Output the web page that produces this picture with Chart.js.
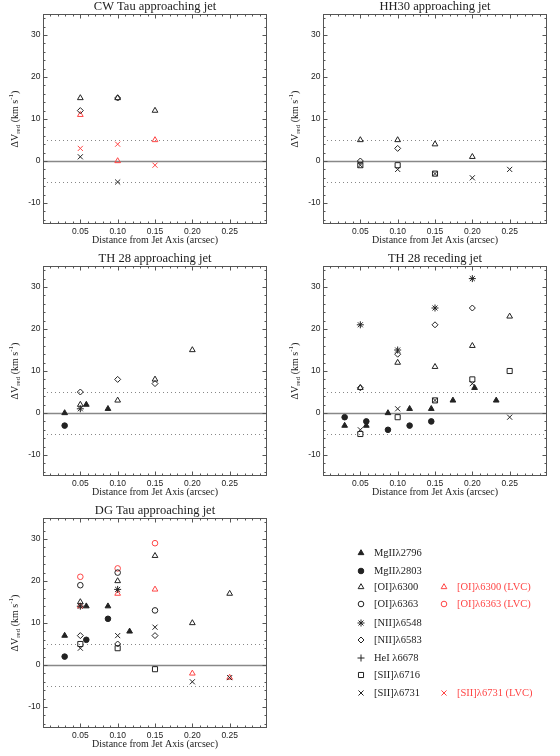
<!DOCTYPE html>
<html>
<head>
<meta charset="utf-8">
<script src="https://cdn.jsdelivr.net/npm/chart.js@4.4.0/dist/chart.umd.min.js"></script>
<style>
html, body { margin: 0; padding: 0; background: #fff; }
#wrap { position: relative; width: 560px; height: 756px; }
canvas { position: absolute; }
</style>
</head>
<body>
<div id="wrap">
<canvas id="cw" width="280" height="252" style="left:0;top:0"></canvas>
<canvas id="hh" width="280" height="252" style="left:280px;top:0"></canvas>
<canvas id="tha" width="280" height="252" style="left:0;top:252px"></canvas>
<canvas id="thr" width="280" height="252" style="left:280px;top:252px"></canvas>
<canvas id="dg" width="280" height="252" style="left:0;top:504px"></canvas>
<canvas id="leg" width="280" height="252" style="left:280px;top:504px"></canvas>
</div>
<script>
// slit positions (arcsec from jet axis)
const slitPos = [0.05, 0.10, 0.15, 0.20, 0.25];
const mgPos = [0.029, 0.058, 0.087, 0.116, 0.145, 0.174, 0.203, 0.232];

// tick labels
const xTickVals = [0.05, 0.10, 0.15, 0.20, 0.25];
const yTickVals = [-10, 0, 10, 20, 30];
const refLines = [-5, 5];

// CW Tau approaching jet
const cwOI6300 = [15, 15, 12, null, null];
const cwNII6583 = [12, 15, null, null, null];
const cwSII6731 = [1, -5, null, null, null];
const cwOI6300LVC = [11, 0, 5, null, null];
const cwSII6731LVC = [3, 4, -1, null, null];

// HH30 approaching jet
const hhOI6300 = [5, 5, 4, 1, null];
const hhNII6583 = [0, 3, null, null, null];
const hhSII6716 = [-1, -1, -3, null, null];
const hhSII6731 = [-1, -2, -3, -4, -2];

// TH 28 approaching jet
const thaMg2796 = [0, 2, 1, null, null, null, null, null];
const thaMg2803 = [-3, null, null, null, null, null, null, null];
const thaOI6300 = [2, 3, 8, 15, null];
const thaNII6548 = [1, null, null, null, null];
const thaNII6583 = [5, 8, 7, null, null];

// TH 28 receding jet
const thrMg2796 = [-3, -3, 0, 1, 1, 3, 6, 3];
const thrMg2803 = [-1, -2, -4, -3, -2, null, null, null];
const thrOI6300 = [6, 12, 11, 16, 23];
const thrNII6548 = [21, 15, 25, 32, null];
const thrNII6583 = [6, 14, 21, 25, null];
const thrSII6716 = [-5, -1, 3, 8, 10];
const thrSII6731 = [-4, 1, 3, 7, -1];

// DG Tau approaching jet
const dgMg2796 = [7, 14, 14, 8, null, null, null, null];
const dgMg2803 = [2, 6, 11, null, null, null, null, null];
const dgOI6300 = [15, 20, 26, 10, 17];
const dgOI6363 = [19, 22, 13, null, null];
const dgNII6548 = [14, 18, null, null, null];
const dgNII6583 = [7, 5, 7, null, null];
const dgSII6716 = [5, 4, -1, null, null];
const dgSII6731 = [4, 7, 9, -4, -3];
const dgOI6300LVC = [14, 17, 18, -2, -3];
const dgOI6363LVC = [21, 23, 29, null, null];

const BLACK = '#222';
const RED = '#ff4545';

const markers = {
  mg2796: { pointStyle: 'triangle', r: 3.3, filled: true },
  mg2803: { pointStyle: 'circle', r: 2.8, filled: true },
  oi6300: { pointStyle: 'triangle', r: 3.3 },
  oi6363: { pointStyle: 'circle', r: 2.8 },
  nii6548: { pointStyle: 'star', r: 3.5 },
  nii6583: { pointStyle: 'rectRot', r: 3.0 },
  hei6678: { pointStyle: 'cross', r: 3.5 },
  sii6716: { pointStyle: 'rect', r: 3.6 },
  sii6731: { pointStyle: 'crossRot', r: 3.6 }
};

function series(xs, ys, kind, color) {
  const m = markers[kind];
  const c = color || BLACK;
  return {
    data: xs.map((x, i) => ({ x: x, y: ys[i] })).filter(p => p.y !== null && p.y !== undefined),
    pointStyle: m.pointStyle,
    pointRadius: m.r,
    pointBorderWidth: 1,
    pointBorderColor: c,
    pointBackgroundColor: m.filled ? c : 'rgba(0,0,0,0)',
    showLine: false
  };
}

const frameColor = '#555';

const framePlugin = {
  id: 'frame',
  beforeDatasetsDraw(chart) {
    const { ctx, chartArea: a, scales: { y } } = chart;
    ctx.save();
    ctx.lineWidth = 1;
    ctx.strokeStyle = '#888';
    ctx.setLineDash([1, 3]);
    refLines.forEach(v => {
      const py = Math.round(y.getPixelForValue(v)) + 0.5;
      ctx.beginPath(); ctx.moveTo(a.left, py); ctx.lineTo(a.right, py); ctx.stroke();
    });
    ctx.setLineDash([]);
    ctx.strokeStyle = '#888';
    ctx.lineWidth = 1.4;
    const p0 = Math.round(y.getPixelForValue(0)) + 0.5;
    ctx.beginPath(); ctx.moveTo(a.left, p0); ctx.lineTo(a.right, p0); ctx.stroke();
    ctx.restore();
  },
  afterDraw(chart) {
    const { ctx, chartArea: a, scales: { x, y } } = chart;
    ctx.save();
    ctx.strokeStyle = frameColor;
    ctx.lineWidth = 1;
    const L = Math.round(a.left) + 0.5, R = Math.round(a.right) - 0.5;
    const T = Math.round(a.top) + 0.5, B = Math.round(a.bottom) - 0.5;
    ctx.strokeRect(L, T, R - L, B - T);
    ctx.beginPath();
    for (let i = 1; i < 30; i++) {
      const px = Math.round(x.getPixelForValue(i / 100)) + 0.5;
      const len = i % 5 === 0 ? 4 : 2;
      ctx.moveTo(px, B); ctx.lineTo(px, B - len);
      ctx.moveTo(px, T); ctx.lineTo(px, T + len);
    }
    for (let v = -14; v <= 34; v += 2) {
      const py = Math.round(y.getPixelForValue(v)) + 0.5;
      const len = v % 10 === 0 ? 4 : 2;
      ctx.moveTo(L, py); ctx.lineTo(L + len, py);
      ctx.moveTo(R, py); ctx.lineTo(R - len, py);
    }
    ctx.stroke();

    // y axis title with sub/superscripts
    const parts = [
      { t: '\u0394V', size: 10, dy: 0 },
      { t: 'red', size: 7, dy: 3 },
      { t: ' (km s', size: 10, dy: 0 },
      { t: '-1', size: 7, dy: -4 },
      { t: ')', size: 10, dy: 0 }
    ];
    let total = 0;
    parts.forEach(p => { ctx.font = p.size + 'px "Liberation Serif"'; p.w = ctx.measureText(p.t).width; total += p.w; });
    ctx.translate(15, (a.top + a.bottom) / 2);
    ctx.rotate(-Math.PI / 2);
    ctx.fillStyle = '#222';
    ctx.textBaseline = 'middle';
    let cx = -total / 2;
    parts.forEach(p => {
      ctx.font = p.size + 'px "Liberation Serif"';
      ctx.fillText(p.t, cx, p.dy);
      cx += p.w;
    });
    ctx.restore();
  }
};

function makePanel(id, title, datasets) {
  new Chart(document.getElementById(id), {
    type: 'scatter',
    data: { datasets: datasets },
    options: {
      responsive: false,
      animation: false,
      events: [],
      layout: { padding: { left: 0, right: 13, top: 0, bottom: 0 } },
      plugins: {
        legend: { display: false },
        tooltip: { enabled: false },
        title: {
          display: true,
          fullSize: false,
          text: title,
          color: '#222',
          font: { family: 'Liberation Serif', size: 12.5, weight: 'normal', lineHeight: 1.1 },
          padding: { top: 0, bottom: 0.25 }
        }
      },
      scales: {
        x: {
          type: 'linear', min: 0, max: 0.3,
          grid: { display: false, drawTicks: false },
          border: { display: false },
          afterBuildTicks: s => { s.ticks = xTickVals.map(v => ({ value: v })); },
          afterFit: s => { s.height = 28; },
          ticks: {
            color: '#222', padding: 2.5, maxRotation: 0, autoSkip: false,
            font: { family: 'Liberation Sans', size: 8.5 },
            callback: v => v.toFixed(2)
          },
          title: {
            display: true, text: 'Distance from Jet Axis (arcsec)', color: '#222',
            font: { family: 'Liberation Serif', size: 10, lineHeight: 1.1 },
            padding: { top: 0, bottom: 5.8 }
          }
        },
        y: {
          type: 'linear', min: -15, max: 35,
          grid: { display: false, drawTicks: false },
          border: { display: false },
          afterBuildTicks: s => { s.ticks = yTickVals.map(v => ({ value: v })); },
          afterFit: s => { s.width = 43; },
          ticks: {
            color: '#222', padding: 2.5, autoSkip: false,
            font: { family: 'Liberation Sans', size: 8.5 },
            callback: v => String(v)
          }
        }
      }
    },
    plugins: [framePlugin]
  });
}

makePanel('cw', 'CW Tau approaching jet', [
  series(slitPos, cwOI6300, 'oi6300'),
  series(slitPos, cwNII6583, 'nii6583'),
  series(slitPos, cwSII6731, 'sii6731'),
  series(slitPos, cwOI6300LVC, 'oi6300', RED),
  series(slitPos, cwSII6731LVC, 'sii6731', RED)
]);

makePanel('hh', 'HH30 approaching jet', [
  series(slitPos, hhOI6300, 'oi6300'),
  series(slitPos, hhNII6583, 'nii6583'),
  series(slitPos, hhSII6716, 'sii6716'),
  series(slitPos, hhSII6731, 'sii6731')
]);

makePanel('tha', 'TH 28 approaching jet', [
  series(mgPos, thaMg2796, 'mg2796'),
  series(mgPos, thaMg2803, 'mg2803'),
  series(slitPos, thaOI6300, 'oi6300'),
  series(slitPos, thaNII6548, 'nii6548'),
  series(slitPos, thaNII6583, 'nii6583')
]);

makePanel('thr', 'TH 28 receding jet', [
  series(mgPos, thrMg2796, 'mg2796'),
  series(mgPos, thrMg2803, 'mg2803'),
  series(slitPos, thrOI6300, 'oi6300'),
  series(slitPos, thrNII6548, 'nii6548'),
  series(slitPos, thrNII6583, 'nii6583'),
  series(slitPos, thrSII6716, 'sii6716'),
  series(slitPos, thrSII6731, 'sii6731')
]);

makePanel('dg', 'DG Tau approaching jet', [
  series(mgPos, dgMg2796, 'mg2796'),
  series(mgPos, dgMg2803, 'mg2803'),
  series(slitPos, dgOI6300, 'oi6300'),
  series(slitPos, dgOI6363, 'oi6363'),
  series(slitPos, dgNII6548, 'nii6548'),
  series(slitPos, dgNII6583, 'nii6583'),
  series(slitPos, dgSII6716, 'sii6716'),
  series(slitPos, dgSII6731, 'sii6731'),
  series(slitPos, dgOI6300LVC, 'oi6300', RED),
  series(slitPos, dgOI6363LVC, 'oi6363', RED)
]);

// legend panel
const legendRows = [
  { kind: 'mg2796', label: 'MgII\u03bb2796', y: 49 },
  { kind: 'mg2803', label: 'MgII\u03bb2803', y: 67 },
  { kind: 'oi6300', label: '[OI]\u03bb6300', y: 83, red: '[OI]\u03bb6300 (LVC)' },
  { kind: 'oi6363', label: '[OI]\u03bb6363', y: 100, red: '[OI]\u03bb6363 (LVC)' },
  { kind: 'nii6548', label: '[NII]\u03bb6548', y: 119 },
  { kind: 'nii6583', label: '[NII]\u03bb6583', y: 136 },
  { kind: 'hei6678', label: 'HeI \u03bb6678', y: 154 },
  { kind: 'sii6716', label: '[SII]\u03bb6716', y: 171 },
  { kind: 'sii6731', label: '[SII]\u03bb6731', y: 189, red: '[SII]\u03bb6731 (LVC)' }
];

const legendPlugin = {
  id: 'lineLegend',
  afterDraw(chart) {
    const ctx = chart.ctx;
    ctx.save();
    ctx.lineWidth = 1;
    ctx.textBaseline = 'middle';
    ctx.font = '10.5px "Liberation Serif"';
    legendRows.forEach(row => {
      const m = markers[row.kind];
      ctx.strokeStyle = BLACK;
      ctx.fillStyle = m.filled ? BLACK : 'rgba(0,0,0,0)';
      Chart.helpers.drawPoint(ctx, { pointStyle: m.pointStyle, radius: m.r, borderWidth: 1 }, 81, row.y);
      ctx.fillStyle = '#222';
      ctx.fillText(row.label, 94, row.y);
      if (row.red) {
        ctx.strokeStyle = RED;
        ctx.fillStyle = 'rgba(0,0,0,0)';
        Chart.helpers.drawPoint(ctx, { pointStyle: m.pointStyle, radius: m.r, borderWidth: 1 }, 164, row.y);
        ctx.fillStyle = RED;
        ctx.fillText(row.red, 177, row.y);
      }
    });
    ctx.restore();
  }
};

new Chart(document.getElementById('leg'), {
  type: 'scatter',
  data: { datasets: [] },
  options: {
    responsive: false, animation: false, events: [],
    plugins: { legend: { display: false }, tooltip: { enabled: false } },
    scales: { x: { display: false }, y: { display: false } }
  },
  plugins: [legendPlugin]
});
</script>
</body>
</html>
